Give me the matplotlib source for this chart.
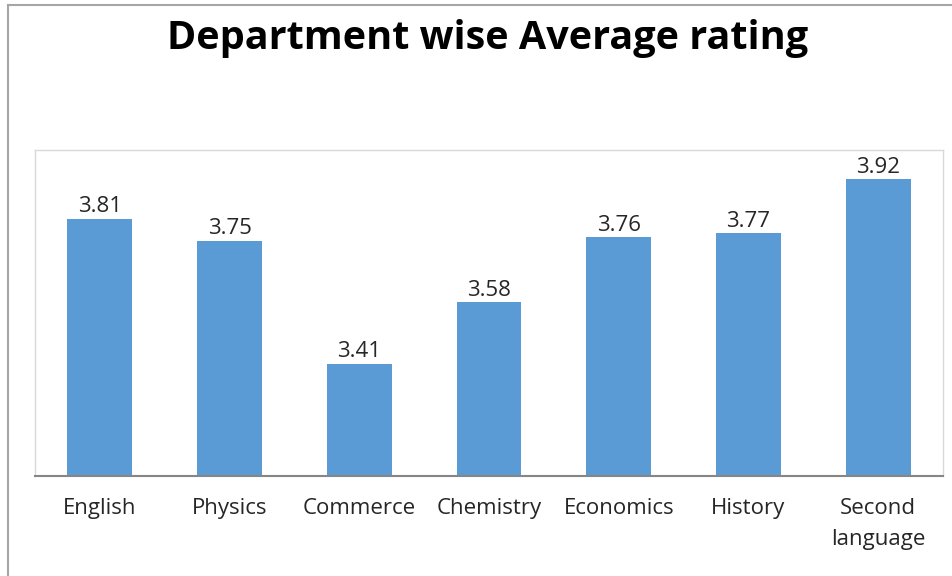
import matplotlib
matplotlib.use("Agg")
import matplotlib.pyplot as plt
from matplotlib.lines import Line2D

departments = ["English", "Physics", "Commerce", "Chemistry", "Economics", "History", "Second\nlanguage"]
ratings = [3.81, 3.75, 3.41, 3.58, 3.76, 3.77, 3.92]
title = "Department wise Average rating"

plt.rcParams['font.family'] = ['Open Sans', 'DejaVu Sans']

fig = plt.figure(figsize=(9.53, 5.76), dpi=100)
W, H = 953, 576

# outer chart border (top and left visible)
fig.add_artist(Line2D([8/W, 1], [1-5/H, 1-5/H], transform=fig.transFigure, color='#a6a6a6', lw=1.5))
fig.add_artist(Line2D([8/W, 8/W], [0, 1-5/H], transform=fig.transFigure, color='#a6a6a6', lw=1.5))

ax = fig.add_axes([35/W, 1-476/H, (943-35)/W, (476-150)/H])
x = list(range(len(departments)))
ax.bar(x, ratings, width=0.5, color='#5B9BD5')
ax.set_ylim(3.1, 4.0)
ax.set_xlim(-0.5, len(departments)-0.5)

for xi, v in zip(x, ratings):
    ax.annotate(f"{v:.2f}", (xi, v), xytext=(0, 1), textcoords='offset points',
                ha='center', va='bottom', fontsize=16, color='#262626')

ax.set_xticks(x)
ax.set_xticklabels(departments, fontsize=16, color='#262626', linespacing=1.6)
ax.tick_params(axis='x', length=0, pad=16)
ax.set_yticks([])
for s in ['top', 'left', 'right']:
    ax.spines[s].set_color('#d9d9d9')
    ax.spines[s].set_linewidth(1)
ax.spines['bottom'].set_color('#868686')
ax.spines['bottom'].set_linewidth(1.5)

fig.text(488/W, 1-38/H, title, ha='center', va='center', fontsize=28.5, fontweight='bold', color='black')

fig.savefig('out.png', dpi=100)
